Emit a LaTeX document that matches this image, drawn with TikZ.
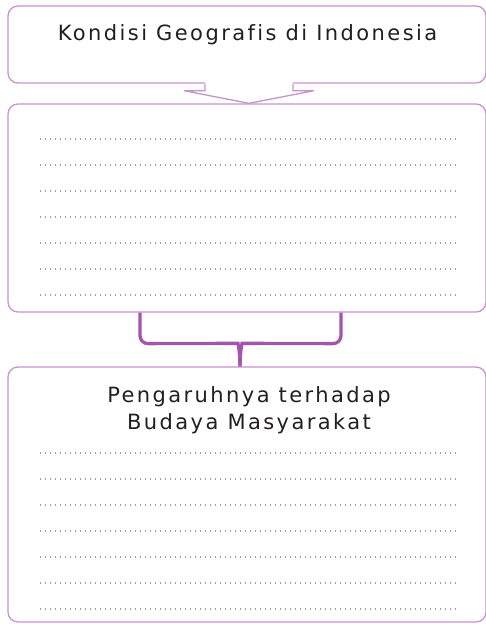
\documentclass[tikz,border=0pt]{standalone}
\usepackage{fontspec}
\setmainfont{DejaVu Sans}
\newfontfamily\judulfont[LetterSpace=11.5,Ligatures=NoCommon]{DejaVu Sans}
\usetikzlibrary{calc}
\definecolor{ungu}{RGB}{200,146,206}
\definecolor{ungutua}{RGB}{164,84,172}
\definecolor{teks}{RGB}{35,31,32}

\begin{document}
\begin{tikzpicture}[x=1pt,y=-1pt,
  kotak/.style={draw=ungu,line width=1.3pt,rounded corners=10pt,minimum width=478pt,inner sep=0pt},
  judul/.style={text=teks,font=\judulfont\fontsize{21}{27}\selectfont,align=center},
  titik/.style={gray!75,line width=1.3pt,dash pattern=on 1.3pt off 3.7pt}]
\useasboundingbox (0,0) rectangle (486,624);
\node[kotak,minimum height=77pt] (kondisi) at (247,44.5) {};
\node[kotak,minimum height=208pt] (isian) at (247,208) {};
\node[kotak,minimum height=255pt] (pengaruh) at (247,494.5) {};
\node[judul,anchor=base] (judulA) at (247.5,40.5) {Kondisi Geografis di Indonesia};
\node[judul] (judulB) at (249,410.5) {Pengaruhnya terhadap\\Budaya Masyarakat};
\foreach \i in {0,...,6}
{\draw[titik] (40,139+26*\i) -- (457,139+26*\i);
\draw[titik] (40,453+26*\i) -- (457,453+26*\i);}
\coordinate (ekorL) at ($(kondisi.south)+(-42,0)$);
\coordinate (ekorR) at ($(kondisi.south)+(46,0)$);
\coordinate (ujung) at ($(isian.north)+(2,0)$);
\fill[white] ($(ekorL)+(0,-1.5)$) -- ($(ekorL)+(0,7)$) -- ($(ekorL)+(-21,7)$) -- (ujung) -- ($(ekorR)+(21,7)$) -- ($(ekorR)+(0,7)$) -- ($(ekorR)+(0,-1.5)$) -- cycle;
\draw[ungu,line width=1.3pt] (ekorL) -- ++(0,7) -- ++(-21,0) -- (ujung) -- ($(ekorR)+(21,7)$) -- ++(-21,0) -- (ekorR);
\coordinate (kakiL) at ($(isian.south)+(-107,0)$);
\coordinate (kakiR) at ($(isian.south)+(94,0)$);
\coordinate (tangkai) at ($(pengaruh.north)+(-7,0)$);
\draw[ungutua,line width=3.3pt,rounded corners=8pt] (kakiL) -- ++(0,31) -- ($(tangkai)+(-10,-23)$) .. controls ($(tangkai)+(-2,-23)$) and ($(tangkai)+(0,-14)$) .. (tangkai);
\draw[ungutua,line width=3.3pt,rounded corners=8pt] (kakiR) -- ++(0,31) -- ($(tangkai)+(10,-23)$) .. controls ($(tangkai)+(2,-23)$) and ($(tangkai)+(0,-14)$) .. (tangkai);
\end{tikzpicture}
\end{document}
